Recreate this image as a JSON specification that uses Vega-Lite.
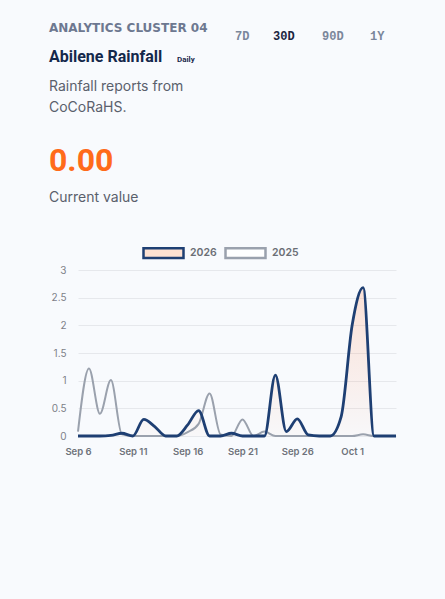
{
  "$schema": "https://vega.github.io/schema/vega-lite/v6.json",
  "background": "#f8fafd",
  "padding": {"left": 49, "top": 22, "right": 49, "bottom": 151},
  "bounds": "flush",
  "spacing": 0,
  "config": {
    "view": {"stroke": null},
    "font": "Inter",
    "concat": {"spacing": 0}
  },
  "vconcat": [
    {
      "bounds": "flush",
      "spacing": 0,
      "hconcat": [
        {
          "width": 99, "height": 1,
          "data": {"values": [{}]},
          "mark": {"type": "text"},
          "encoding": {"text": {"value": ""}},
          "title": {"text": "ANALYTICS CLUSTER 04", "subtitle": "Abilene Rainfall", "anchor": "start", "frame": "group", "dx": -29, "offset": -5, "subtitlePadding": 13.16,
            "font": "DejaVu Sans", "fontSize": 12, "fontWeight": "bold", "color": "#6d7890",
            "subtitleFont": "Roboto", "subtitleFontSize": 16, "subtitleFontWeight": "bold", "subtitleColor": "#14284b"}
        },
        {
          "width": 58, "height": 1,
          "data": {"values": [{}]},
          "mark": {"type": "text"},
          "encoding": {"text": {"value": ""}},
          "title": {"text": "Daily", "anchor": "start", "frame": "group", "offset": -3.34,
            "font": "Roboto", "fontSize": 8, "fontWeight": "bold", "color": "#1b2a4a"}
        },
        {
          "width": 38, "height": 1,
          "data": {"values": [{}]},
          "mark": {"type": "text"},
          "encoding": {"text": {"value": ""}},
          "title": {"text": "7D", "anchor": "start", "frame": "group", "offset": 17.2,
            "font": "Liberation Mono", "fontSize": 12, "fontWeight": "bold", "color": "#7b879b"}
        },
        {
          "width": 49, "height": 1,
          "data": {"values": [{}]},
          "mark": {"type": "text"},
          "encoding": {"text": {"value": ""}},
          "title": {"text": "30D", "anchor": "start", "frame": "group", "offset": 17.2,
            "font": "Liberation Mono", "fontSize": 12, "fontWeight": "bold", "color": "#1b2540"}
        },
        {
          "width": 48, "height": 1,
          "data": {"values": [{}]},
          "mark": {"type": "text"},
          "encoding": {"text": {"value": ""}},
          "title": {"text": "90D", "anchor": "start", "frame": "group", "offset": 17.2,
            "font": "Liberation Mono", "fontSize": 12, "fontWeight": "bold", "color": "#7b879b"}
        },
        {
          "width": 20, "height": 1,
          "data": {"values": [{}]},
          "mark": {"type": "text"},
          "encoding": {"text": {"value": ""}},
          "title": {"text": "1Y", "anchor": "start", "frame": "group", "offset": 17.2,
            "font": "Liberation Mono", "fontSize": 12, "fontWeight": "bold", "color": "#7b879b"}
        }
      ]
    },
    {
      "width": 318, "height": 48.58,
      "data": {"values": [{}]},
      "mark": {"type": "text"},
      "encoding": {"text": {"value": ""}}
    },
    {
      "width": 318, "height": 87.4,
      "data": {"values": [{}]},
      "mark": {"type": "text"},
      "encoding": {"text": {"value": ""}},
      "title": {"text": ["Rainfall reports from", "CoCoRaHS."], "anchor": "start", "frame": "group", "dx": -29, "offset": 0,
        "font": "Inter", "fontSize": 14, "fontWeight": "normal", "color": "#5a606c", "lineHeight": 20.6}
    },
    {
      "width": 318, "height": 66.36,
      "data": {"values": [{}]},
      "mark": {"type": "text"},
      "encoding": {"text": {"value": ""}},
      "title": {"text": "0.00", "subtitle": "Current value", "anchor": "start", "frame": "group", "dx": -29, "offset": -3, "subtitlePadding": 13.24,
        "font": "Roboto", "fontSize": 32, "fontWeight": "bold", "color": "#ff6b1a",
        "subtitleFont": "Inter", "subtitleFontSize": 14, "subtitleFontWeight": "normal", "subtitleColor": "#5a606c"}
    },
    {
      "width": 318, "height": 166,
      "data": {"values": [
        {"date": "2026-09-06T00:00:00", "series": "2026", "value": 0},
        {"date": "2026-09-07T00:00:00", "series": "2026", "value": 0},
        {"date": "2026-09-08T00:00:00", "series": "2026", "value": 0},
        {"date": "2026-09-09T00:00:00", "series": "2026", "value": 0.01},
        {"date": "2026-09-10T00:00:00", "series": "2026", "value": 0.05},
        {"date": "2026-09-11T00:00:00", "series": "2026", "value": 0},
        {"date": "2026-09-12T00:00:00", "series": "2026", "value": 0.3},
        {"date": "2026-09-13T00:00:00", "series": "2026", "value": 0.17},
        {"date": "2026-09-14T00:00:00", "series": "2026", "value": 0},
        {"date": "2026-09-15T00:00:00", "series": "2026", "value": 0},
        {"date": "2026-09-16T00:00:00", "series": "2026", "value": 0.2},
        {"date": "2026-09-17T00:00:00", "series": "2026", "value": 0.46},
        {"date": "2026-09-18T00:00:00", "series": "2026", "value": 0},
        {"date": "2026-09-19T00:00:00", "series": "2026", "value": 0},
        {"date": "2026-09-20T00:00:00", "series": "2026", "value": 0.05},
        {"date": "2026-09-21T00:00:00", "series": "2026", "value": 0},
        {"date": "2026-09-22T00:00:00", "series": "2026", "value": 0},
        {"date": "2026-09-23T00:00:00", "series": "2026", "value": 0},
        {"date": "2026-09-24T00:00:00", "series": "2026", "value": 1.1},
        {"date": "2026-09-25T00:00:00", "series": "2026", "value": 0.08},
        {"date": "2026-09-26T00:00:00", "series": "2026", "value": 0.31},
        {"date": "2026-09-27T00:00:00", "series": "2026", "value": 0.02},
        {"date": "2026-09-28T00:00:00", "series": "2026", "value": 0},
        {"date": "2026-09-29T00:00:00", "series": "2026", "value": 0},
        {"date": "2026-09-30T00:00:00", "series": "2026", "value": 0.35},
        {"date": "2026-10-01T00:00:00", "series": "2026", "value": 2.0},
        {"date": "2026-10-02T00:00:00", "series": "2026", "value": 2.68},
        {"date": "2026-10-03T00:00:00", "series": "2026", "value": 0},
        {"date": "2026-10-04T00:00:00", "series": "2026", "value": 0},
        {"date": "2026-10-05T00:00:00", "series": "2026", "value": 0},
        {"date": "2026-09-06T00:00:00", "series": "2025", "value": 0.08},
        {"date": "2026-09-07T00:00:00", "series": "2025", "value": 1.22},
        {"date": "2026-09-08T00:00:00", "series": "2025", "value": 0.4},
        {"date": "2026-09-09T00:00:00", "series": "2025", "value": 1.01},
        {"date": "2026-09-10T00:00:00", "series": "2025", "value": 0.03},
        {"date": "2026-09-11T00:00:00", "series": "2025", "value": 0},
        {"date": "2026-09-12T00:00:00", "series": "2025", "value": 0},
        {"date": "2026-09-13T00:00:00", "series": "2025", "value": 0},
        {"date": "2026-09-14T00:00:00", "series": "2025", "value": 0},
        {"date": "2026-09-15T00:00:00", "series": "2025", "value": 0},
        {"date": "2026-09-16T00:00:00", "series": "2025", "value": 0.07},
        {"date": "2026-09-17T00:00:00", "series": "2025", "value": 0.22},
        {"date": "2026-09-18T00:00:00", "series": "2025", "value": 0.77},
        {"date": "2026-09-19T00:00:00", "series": "2025", "value": 0.03},
        {"date": "2026-09-20T00:00:00", "series": "2025", "value": 0},
        {"date": "2026-09-21T00:00:00", "series": "2025", "value": 0.3},
        {"date": "2026-09-22T00:00:00", "series": "2025", "value": 0},
        {"date": "2026-09-23T00:00:00", "series": "2025", "value": 0.08},
        {"date": "2026-09-24T00:00:00", "series": "2025", "value": 0},
        {"date": "2026-09-25T00:00:00", "series": "2025", "value": 0},
        {"date": "2026-09-26T00:00:00", "series": "2025", "value": 0},
        {"date": "2026-09-27T00:00:00", "series": "2025", "value": 0},
        {"date": "2026-09-28T00:00:00", "series": "2025", "value": 0},
        {"date": "2026-09-29T00:00:00", "series": "2025", "value": 0},
        {"date": "2026-09-30T00:00:00", "series": "2025", "value": 0},
        {"date": "2026-10-01T00:00:00", "series": "2025", "value": 0},
        {"date": "2026-10-02T00:00:00", "series": "2025", "value": 0.03},
        {"date": "2026-10-03T00:00:00", "series": "2025", "value": 0},
        {"date": "2026-10-04T00:00:00", "series": "2025", "value": 0},
        {"date": "2026-10-05T00:00:00", "series": "2025", "value": 0}
      ]},
      "encoding": {
        "x": {"field": "date", "type": "temporal",
          "scale": {"domain": [{"year": 2026, "month": 9, "date": 6}, {"year": 2026, "month": 10, "date": 5}]},
          "axis": {"title": null, "grid": false, "ticks": false, "tickSize": 0, "domain": false, "labelFlush": false, "labelOverlap": false,
            "values": [{"year": 2026, "month": 9, "date": 6}, {"year": 2026, "month": 9, "date": 11}, {"year": 2026, "month": 9, "date": 16}, {"year": 2026, "month": 9, "date": 21}, {"year": 2026, "month": 9, "date": 26}, {"year": 2026, "month": 10, "date": 1}],
            "format": "%b %-d", "labelFont": "Inter", "labelFontSize": 9.5, "labelFontWeight": 600, "labelColor": "#6e727a", "labelPadding": 10}},
        "y": {"field": "value", "type": "quantitative",
          "scale": {"domain": [0, 3], "nice": false},
          "axis": {"title": null, "values": [0, 0.5, 1, 1.5, 2, 2.5, 3], "format": "~g", "ticks": false, "tickSize": 0, "domain": false, "labelFlush": false,
            "gridColor": "#e6e8ec", "gridWidth": 1, "labelFont": "Inter", "labelFontSize": 10, "labelColor": "#7d8088", "labelPadding": 12}}
      },
      "layer": [
        {
          "transform": [{"filter": "datum.series === '2026'"}],
          "mark": {"type": "area", "interpolate": "monotone",
            "color": {"gradient": "linear", "x1": 0, "y1": 0, "x2": 0, "y2": 1,
              "stops": [{"offset": 0, "color": "rgba(255,120,60,0.2)"}, {"offset": 1, "color": "rgba(255,120,60,0.02)"}]}}
        },
        {
          "transform": [{"filter": "datum.series === '2025'"}],
          "mark": {"type": "line", "interpolate": "monotone", "strokeWidth": 2},
          "encoding": {"color": {"field": "series", "type": "nominal"}}
        },
        {
          "transform": [{"filter": "datum.series === '2026'"}],
          "mark": {"type": "line", "interpolate": "monotone", "strokeWidth": 2.8},
          "encoding": {"color": {"field": "series", "type": "nominal",
            "scale": {"domain": ["2026", "2025"], "range": ["#1e3f73", "#9aa1ad"]},
            "legend": {"orient": "none", "legendX": 64, "legendY": 165.3, "direction": "horizontal", "title": null,
              "symbolType": "M-1,-0.24H1V0.24H-1Z", "symbolSize": 1600, "symbolStrokeWidth": 2.5,
              "labelFont": "Inter", "labelFontSize": 10.5, "labelFontWeight": 600, "labelColor": "#6b6e75", "labelOffset": 5, "columnPadding": 3,
              "encode": {"symbols": {"update": {"fill": {"signal": "datum.value === '2026' ? '#fde1d2' : '#ffffff'"}, "fillOpacity": {"value": 1}}}}}}}
        }
      ]
    }
  ]
}
